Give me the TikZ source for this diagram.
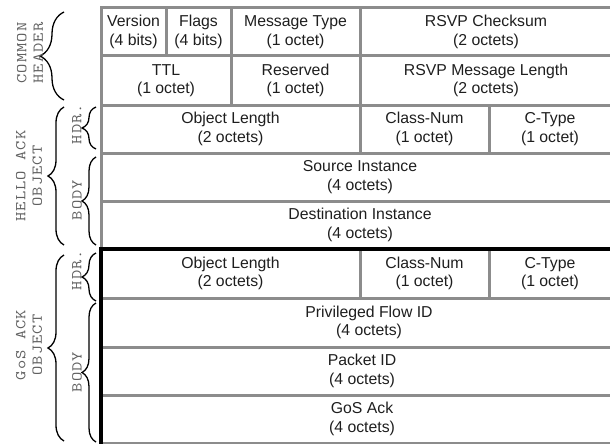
\documentclass[tikz,border=0pt]{standalone}
\usepackage{fontspec}
\setmainfont{Liberation Sans}
\newfontfamily\labelfont[FakeStretch=1.2,LetterSpace=7]{Latin Modern Mono}
\usetikzlibrary{decorations.pathreplacing}
\definecolor{gridgray}{HTML}{8C8C8C}
\definecolor{labelgray}{HTML}{5E5E5E}
\definecolor{celltext}{HTML}{1E1E1E}
\tikzset{
  grid/.style={draw=gridgray, line width=3pt},
  heavy/.style={draw=black, line width=3.2pt},
  cell/.style={align=center, text=celltext, inner sep=0pt,
    font=\fontsize{15.8}{18.5}\selectfont},
  side/.style={rotate=90, align=center, text=labelgray, inner sep=0pt,
    font=\labelfont\fontsize{15}{16.5}\selectfont},
  bigbrace/.style={draw=black, line width=1.3pt, decorate,
    decoration={brace, amplitude=24pt}},
  midbrace/.style={draw=black, line width=1.3pt, decorate,
    decoration={brace, amplitude=16pt}},
  smallbrace/.style={draw=black, line width=1.3pt, decorate,
    decoration={brace, amplitude=14pt}},
}
\begin{document}
\begin{tikzpicture}[x=1pt, y=-1pt]
\useasboundingbox (0,0) rectangle (610,444);

% common header grid
\draw[grid] (101,8) rectangle (614,56);
\draw[grid] (101,56) rectangle (614,105);
\draw[grid] (166,8) -- (166,56);
\draw[grid] (231,8) -- (231,105);
\draw[grid] (360,8) -- (360,105);

% hello ack object grid
\draw[grid] (101,105) rectangle (614,153);
\draw[grid] (360,105) -- (360,153);
\draw[grid] (489,105) -- (489,153);
\draw[grid] (101,153) rectangle (614,201);
\draw[grid] (101,201) rectangle (614,249);

% gos ack object grid
\draw[grid] (101,249) rectangle (614,298);
\draw[grid] (360,249) -- (360,298);
\draw[grid] (489,249) -- (489,298);
\draw[grid] (101,298) rectangle (614,347);
\draw[grid] (101,347) rectangle (614,395);
\draw[grid] (101,395) rectangle (614,443);

% heavy separator and left edge of the gos ack object
\draw[heavy] (99.4,249) -- (614,249);
\draw[heavy] (101,249) -- (101,445);

% field texts
\node[cell] (ver)  at (133.5,32) {Version\\(4 bits)};
\node[cell] (flg)  at (198.5,32) {Flags\\(4 bits)};
\node[cell] (mtyp) at (295.5,32) {Message Type\\(1 octet)};
\node[cell] (csum) at (486,32) {RSVP Checksum\\(2 octets)};
\node[cell] (ttl)  at (166,80.5) {TTL\\(1 octet)};
\node[cell] (rsv)  at (295.5,80.5) {Reserved\\(1 octet)};
\node[cell] (mlen) at (486,80.5) {RSVP Message Length\\(2 octets)};

\node[cell] (holen) at (230.5,129) {Object Length\\(2 octets)};
\node[cell] (hocls) at (424.5,129) {Class-Num\\(1 octet)};
\node[cell] (hoct)  at (550,129) {C-Type\\(1 octet)};
\node[cell] (src)   at (360,177) {Source Instance\\(4 octets)};
\node[cell] (dst)   at (360,225) {Destination Instance\\(4 octets)};

\node[cell] (goolen) at (230.5,273.5) {Object Length\\(2 octets)};
\node[cell] (gocls)  at (424.5,273.5) {Class-Num\\(1 octet)};
\node[cell] (goct)   at (550,273.5) {C-Type\\(1 octet)};
\node[cell] (pfid)   at (369,322.5) {Privileged Flow ID\\(4 octets)};
\node[cell] (pkt)    at (362,371) {Packet ID\\(4 octets)};
\node[cell] (gack)   at (362,419) {GoS Ack\\(4 octets)};

% braces
\draw[bigbrace] (64,100) -- (64,12);
\draw[midbrace] (64,245) -- (64,107);
\draw[midbrace] (64,441) -- (64,255);
\draw[smallbrace] (96,149) -- (96,107);
\draw[smallbrace] (96,245) -- (96,157);
\draw[smallbrace] (96,301) -- (96,253);
\draw[smallbrace] (96,442) -- (96,303);

% side labels
\node[side] (common) at (30,53)  {COMMON\\HEADER};
\node[side] (hello)  at (29,176) {HELLO ACK\\OBJECT};
\node[side] (gos)    at (29,345) {GoS ACK\\OBJECT};
\node[side] (hhdr)   at (77,124) {HDR.};
\node[side] (hbody)  at (77,200) {BODY};
\node[side] (ghdr)   at (77,270) {HDR.};
\node[side] (gbody)  at (77,372) {BODY};
\end{tikzpicture}
\end{document}
